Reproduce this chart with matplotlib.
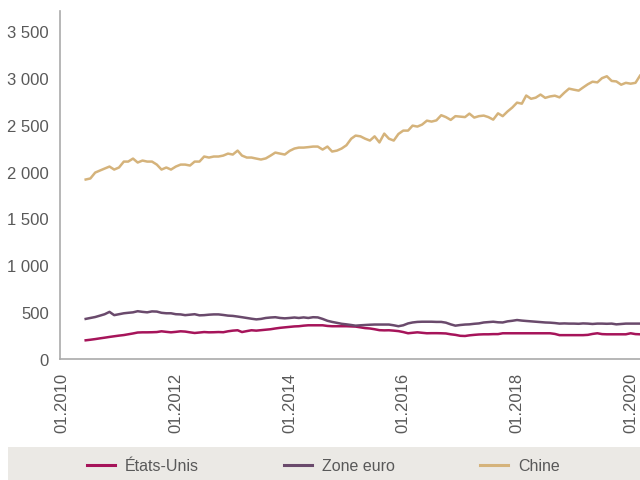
import pandas as pd
import matplotlib.pyplot as plt
import matplotlib.dates as mdates
from matplotlib.ticker import FuncFormatter, MultipleLocator
from matplotlib.patches import Rectangle

# monthly values, 06.2010 -> 03.2020
dates = pd.date_range("2010-06-01", "2020-03-01", freq="MS")

etats_unis = [
    202, 208, 215, 223, 230, 238, 245, 252, 258, 266, 275, 285, 287, 287, 288, 290,
    298, 292, 287, 292, 298, 295, 287, 280, 285, 290, 287, 288, 290, 288, 298, 305,
    309, 290, 300, 309, 305, 310, 315, 320, 328, 335, 340, 345, 350, 352, 358, 362,
    362, 362, 362, 355, 352, 352, 352, 352, 350, 348, 340, 332, 328, 320, 310, 308,
    309, 305, 300, 290, 277, 282, 287, 282, 277, 278, 278, 277, 275, 266, 260, 250,
    248, 255, 260, 264, 266, 266, 268, 268, 277, 277, 277, 277, 277, 277, 277, 277,
    277, 277, 277, 270, 257, 257, 257, 257, 257, 257, 260, 270, 277, 268, 266, 266,
    266, 266, 266, 277, 268, 266,
]

zone_euro = [
    430, 440, 450, 465, 480, 505, 470, 480, 490, 495, 500, 512, 505, 500, 510, 508,
    495, 490, 490, 480, 478, 470, 475, 480, 468, 470, 475, 478, 478, 472, 465, 462,
    455, 448, 440, 432, 425, 430, 440, 445, 448, 440, 436, 440, 445, 440, 446, 440,
    448, 446, 430, 410, 398, 388, 378, 372, 365, 358, 362, 365, 368, 370, 370, 370,
    370, 362, 352, 362, 382, 392, 398, 400, 400, 400, 398, 398, 390, 372, 358, 365,
    370, 372, 378, 382, 392, 396, 400, 394, 392, 404, 410, 418, 412, 408, 404, 400,
    396, 392, 390, 386, 380, 382, 380, 380, 378, 382, 380, 376, 380, 380, 378, 380,
    372, 376, 380, 380, 380, 380,
]

chine = [
    1915, 1926, 1989, 2011, 2032, 2053, 2021, 2043, 2106, 2106, 2138, 2096, 2117, 2106, 2106, 2074,
    2021, 2043, 2021, 2053, 2074, 2074, 2064, 2106, 2106, 2160, 2149, 2160, 2160, 2170, 2191, 2181,
    2223, 2170, 2149, 2149, 2138, 2128, 2140, 2170, 2202, 2191, 2181, 2220, 2245, 2255, 2255, 2260,
    2266, 2266, 2234, 2266, 2213, 2223, 2245, 2280, 2350, 2383, 2375, 2350, 2330, 2375, 2310, 2404,
    2350, 2330, 2400, 2436, 2436, 2489, 2479, 2500, 2542, 2532, 2545, 2600, 2580, 2550, 2590, 2585,
    2580, 2617, 2575, 2590, 2596, 2580, 2553, 2620, 2590, 2640, 2681, 2734, 2723, 2810, 2775, 2787,
    2820, 2785, 2800, 2808, 2790, 2840, 2883, 2872, 2862, 2895, 2930, 2957, 2950, 2995, 3015, 2965,
    2960, 2925, 2945, 2936, 2945, 3021,
]

c_us = "#a6145a"
c_eu = "#6a4a6c"
c_cn = "#d5b37b"
grey = "#595959"

plt.rcParams["font.family"] = ["Liberation Sans", "DejaVu Sans"]

fig = plt.figure(figsize=(6.4, 4.81), dpi=100)
ax = fig.add_axes([0.094, 0.251, 0.906, 0.724])

ax.plot(dates, etats_unis, color=c_us, linewidth=1.8, label="États-Unis")
ax.plot(dates, zone_euro, color=c_eu, linewidth=1.8, label="Zone euro")
ax.plot(dates, chine, color=c_cn, linewidth=1.8, label="Chine")

ax.set_xlim(pd.Timestamp("2009-12-19"), pd.Timestamp("2020-03-01"))
ax.set_ylim(0, 3710)

ax.yaxis.set_major_locator(MultipleLocator(500))
ax.yaxis.set_major_formatter(FuncFormatter(lambda v, p: f"{int(v):,}".replace(",", " ")))
ax.xaxis.set_major_locator(mdates.YearLocator(2))
ax.xaxis.set_major_formatter(mdates.DateFormatter("%m.%Y"))

for lab in ax.get_xticklabels():
    lab.set_rotation(90)
ax.tick_params(axis="both", length=0, labelsize=12, colors=grey, pad=8)
ax.tick_params(axis="x", pad=9)

for s in ["top", "right"]:
    ax.spines[s].set_visible(False)
for s in ["left", "bottom"]:
    ax.spines[s].set_color("#aaaaaa")
    ax.spines[s].set_linewidth(1.2)

# legend band
fig.patches.append(Rectangle((0.013, 0), 0.987, 33 / 481, transform=fig.transFigure,
                             facecolor="#ebe9e5", edgecolor="none", zorder=0))
leg = fig.legend(loc="center", bbox_to_anchor=(0.505, 14 / 481), ncol=3, frameon=False,
                 fontsize=11.5, handlelength=1.8, handletextpad=0.6, columnspacing=5.3)
for t in leg.get_texts():
    t.set_color(grey)
for h in leg.legend_handles:
    h.set_linewidth(2.2)

fig.savefig("out.png", dpi=100)
